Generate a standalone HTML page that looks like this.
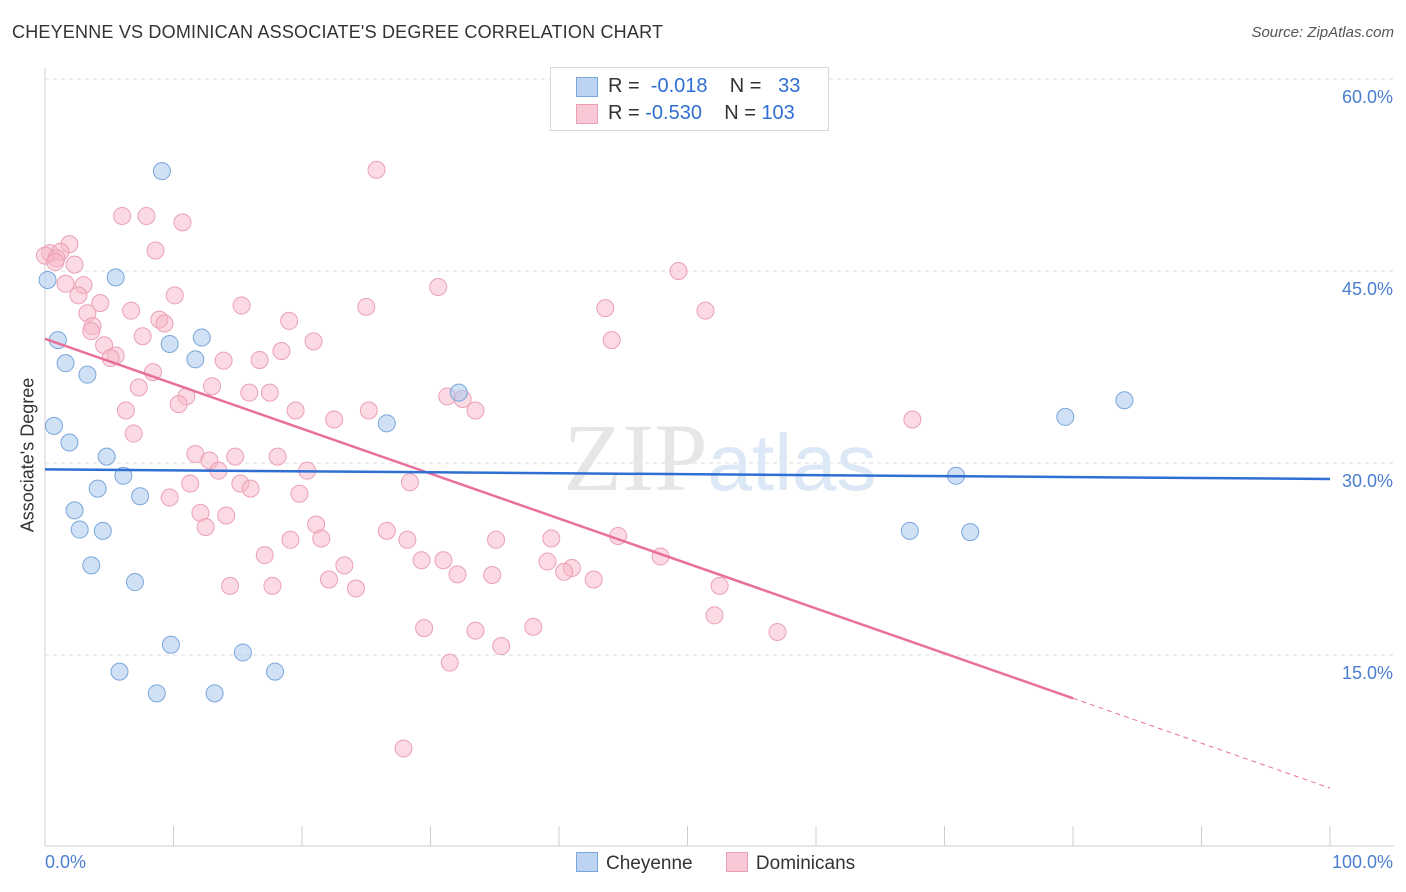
<!DOCTYPE html>
<html><head><meta charset="utf-8"><style>
body{margin:0;background:#fff;font-family:"Liberation Sans",sans-serif;}
#wrap{position:relative;width:1406px;height:892px;overflow:hidden}
</style></head><body>
<div id="wrap">
<svg id="svg" width="1406" height="892" xmlns="http://www.w3.org/2000/svg"></svg>
</div>
<script>
const cheyX=[9.1,5.5,0.2,1.0,9.7,12.2,1.6,11.7,3.3,32.2,84.0,79.4,0.7,26.6,1.9,4.8,6.1,4.1,7.4,2.3,70.9,2.7,4.5,67.3,72.0,3.6,7.0,9.8,15.4,5.8,17.9,8.7,13.2];
const cheyY=[52.8,44.5,44.3,39.6,39.3,39.8,37.8,38.1,36.9,35.5,34.9,33.6,32.9,33.1,31.6,30.5,29.0,28.0,27.4,26.3,29.0,24.8,24.7,24.7,24.6,22.0,20.7,15.8,15.2,13.7,13.7,12.0,12.0];
const domX=[25.8,6.0,7.9,10.7,1.9,8.6,0.4,1.2,0.0,0.9,2.3,0.8,49.3,1.6,3.0,2.6,10.1,30.6,4.3,15.3,25.0,43.6,51.4,3.3,6.7,19.0,8.9,9.3,3.7,3.6,7.6,20.9,44.1,4.6,18.4,5.5,5.1,13.9,16.7,8.4,13.0,7.3,15.9,17.5,11.0,31.3,32.5,10.4,6.3,19.5,25.2,33.5,22.5,67.5,6.9,11.7,12.8,14.8,18.1,13.5,20.4,28.4,11.3,15.2,16.0,19.8,9.7,12.1,14.1,21.1,12.5,26.6,44.6,19.1,21.5,28.2,35.1,39.4,17.1,47.9,23.3,29.3,31.0,39.1,41.0,40.4,32.1,34.8,22.1,42.7,14.4,17.7,24.2,52.5,52.1,29.5,33.5,38.0,57.0,35.5,31.5,27.9];
const domY=[52.9,49.3,49.3,48.8,47.1,46.6,46.4,46.5,46.2,46.0,45.5,45.7,45.0,44.0,43.9,43.1,43.1,43.75,42.5,42.3,42.2,42.1,41.9,41.7,41.9,41.1,41.2,40.9,40.7,40.3,39.9,39.5,39.6,39.2,38.75,38.4,38.2,38.0,38.05,37.1,36.0,35.9,35.5,35.5,35.2,35.2,35.0,34.6,34.1,34.1,34.1,34.1,33.4,33.4,32.3,30.7,30.2,30.5,30.5,29.4,29.4,28.5,28.4,28.4,28.0,27.6,27.3,26.1,25.9,25.2,25.0,24.7,24.3,24.0,24.1,24.0,24.0,24.1,22.8,22.7,22.0,22.4,22.4,22.3,21.8,21.5,21.3,21.25,20.9,20.9,20.4,20.4,20.2,20.4,18.1,17.1,16.9,17.2,16.8,15.7,14.4,7.7];
const yTicks=[15,30,45,60];
const yTickLabels=["15.0%","30.0%","45.0%","60.0%"];
const cheyTrend=[29.5,28.75];
const domTrend=[39.7,4.6];
const domSolidEnd=80;

const svg=document.getElementById('svg');
const NS='http://www.w3.org/2000/svg';
const X=v=>45+v*12.85;
const Y=v=>463-(v-30)*12.8;
function mk(t,a,parent){const e=document.createElementNS(NS,t);for(const k in a)e.setAttribute(k,a[k]);(parent||svg).appendChild(e);return e;}
yTicks.forEach((t,i)=>{
 const g=mk('line',{x1:45,x2:1394,y1:Y(t),y2:Y(t),stroke:'#dcdcdc','stroke-dasharray':'4,4'});
 
 
 const l=mk('text',{x:1393,y:Y(t)+24,'text-anchor':'end','font-size':18,fill:'#4a7fd0'});
 l.textContent=yTickLabels[i];
 
 
});
const ax=mk('line',{x1:45,x2:45,y1:68,y2:846,stroke:'#cfcfcf'});

const bx=mk('line',{x1:45,x2:1394,y1:846,y2:846,stroke:'#cfcfcf'});

for(let i=0;i<=10;i++){const t=mk('line',{x1:X(i*10),x2:X(i*10),y1:826,y2:846,stroke:'#cfcfcf'});
 }
const wm=mk('text',{x:720,y:490,'text-anchor':'middle','font-size':96,fill:'#e6e6e6','font-family':'Liberation Serif,serif'});
wm.innerHTML='ZIP<tspan fill="#dce8f6" font-family="Liberation Sans,sans-serif" font-size="80">atlas</tspan>';

domX.forEach((x,i)=>{const c=mk('circle',{cx:X(x),cy:Y(domY[i]),r:8.5,fill:'rgba(247,182,200,0.5)',stroke:'#eba0b6','stroke-width':1});
 });
cheyX.forEach((x,i)=>{const c=mk('circle',{cx:X(x),cy:Y(cheyY[i]),r:8.5,fill:'rgba(170,200,238,0.55)',stroke:'#7aa6dc','stroke-width':1});
 });
const dv=x=>domTrend[0]+(domTrend[1]-domTrend[0])*x/100;
const t1=mk('line',{x1:X(0),y1:Y(dv(0)),x2:X(domSolidEnd),y2:Y(dv(domSolidEnd)),stroke:'#e8709a','stroke-width':2.5});

const t2=mk('line',{x1:X(domSolidEnd),y1:Y(dv(domSolidEnd)),x2:X(100),y2:Y(dv(100)),stroke:'#e8709a','stroke-width':1,'stroke-dasharray':'5,4'});

const t3=mk('line',{x1:X(0),y1:Y(cheyTrend[0]),x2:X(100),y2:Y(cheyTrend[1]),stroke:'#2f6fd3','stroke-width':2.5});

</script>
<div style="position:absolute;left:12px;top:22px;font-size:18px;color:#333;letter-spacing:0.2px">CHEYENNE VS DOMINICAN ASSOCIATE'S DEGREE CORRELATION CHART</div>
<div style="position:absolute;right:12px;top:24px;font-size:15px;color:#555;font-style:italic">Source: ZipAtlas.com</div>
<div style="position:absolute;left:28px;top:455px;transform:translate(-50%,-50%) rotate(-90deg);font-size:18px;color:#333;white-space:nowrap">Associate's Degree</div>
<div style="position:absolute;left:45px;top:852px;font-size:18px;color:#4a7fd0">0.0%</div>
<div style="position:absolute;right:13px;top:852px;font-size:18px;color:#4a7fd0">100.0%</div>
<div style="position:absolute;left:550px;top:67px;width:277px;height:62px;border:1px solid #d8d8d8;background:#fff;font-size:20px;color:#333">
 <div style="position:absolute;left:25px;top:9px;width:20px;height:18px;background:#bcd4f2;border:1px solid #7aa6dc"></div>
 <div style="position:absolute;left:57px;top:7px">R = <span style="color:#2f6fd3">&nbsp;-0.018</span>&nbsp;&nbsp;&nbsp; N = <span style="color:#2f6fd3">&nbsp;&nbsp;33</span></div>
 <div style="position:absolute;left:25px;top:36px;width:20px;height:18px;background:#f9c8d6;border:1px solid #eba0b6"></div>
 <div style="position:absolute;left:57px;top:34px">R = <span style="color:#2f6fd3">-0.530</span>&nbsp;&nbsp;&nbsp; N = <span style="color:#2f6fd3">103</span></div>
</div>
<div style="position:absolute;left:576px;top:852px;font-size:19px;color:#333">
 <span><span style="display:inline-block;width:20px;height:18px;background:#bcd4f2;border:1px solid #7aa6dc;vertical-align:-3px;margin-right:8px"></span>Cheyenne</span>
 <span style="margin-left:28px"><span style="display:inline-block;width:20px;height:18px;background:#f9c8d6;border:1px solid #eba0b6;vertical-align:-3px;margin-right:8px"></span>Dominicans</span>
</div>
</body></html>
